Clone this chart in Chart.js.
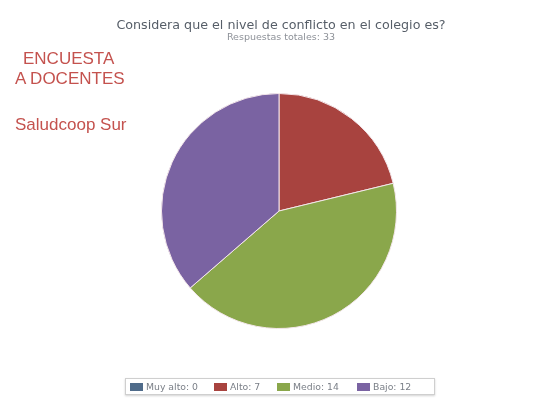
<!DOCTYPE html>
<html>
<head>
<meta charset="utf-8">
<script src="https://cdn.jsdelivr.net/npm/chart.js@4/dist/chart.umd.min.js"></script>
<style>
  html, body { margin: 0; padding: 0; background: #fff; }
  #wrap { position: relative; width: 555px; height: 402px; overflow: hidden; }
  #chart { position: absolute; left: 0; top: 0; }
  .title { position: absolute; left: 0; width: 562px; text-align: center; font-family: "DejaVu Sans", sans-serif; white-space: nowrap; }
  #t1 { top: 17px; font-size: 12.7px; line-height: 15px; color: #565e68; }
  #t2 { top: 31px; font-size: 9.5px; line-height: 11px; color: #8d9198; }
  .side { position: absolute; font-family: "Liberation Sans", Arial, sans-serif; font-size: 17px; line-height: 17px; color: #c4524e; white-space: nowrap; }
  #legend { position: absolute; left: 125px; top: 378px; width: 308px; height: 15px; border: 1px solid #cfcfcf; box-shadow: 0 1px 2px rgba(0,0,0,0.18); background: #fff;
            font-family: "DejaVu Sans", sans-serif; font-size: 9.3px; color: #7a7f87; }
  .li { position: absolute; top: 3px; white-space: nowrap; line-height: 9px; }
  .sw { display: inline-block; width: 13px; height: 8px; vertical-align: top; margin-right: 3px; margin-top: 1px; }
</style>
</head>
<body>
<div id="wrap">
  <canvas id="chart" width="555" height="402"></canvas>
  <div class="title" id="t1"></div>
  <div class="title" id="t2"></div>
  <div class="side" style="left:23px; top:50px;">ENCUESTA</div>
  <div class="side" style="left:15px; top:70px;">A DOCENTES</div>
  <div class="side" style="left:15px; top:116px;">Saludcoop Sur</div>
  <div id="legend"></div>
</div>
<script>
// Survey answers
const titleText = "Considera que el nivel de conflicto en el colegio es?";
const categories = ["Muy alto", "Alto", "Medio", "Bajo"];
const answers = [0, 7, 14, 12];
const sliceColors = ["#4f6b8a", "#a8433f", "#8aa74b", "#7a63a2"];

const total = answers.reduce((a, b) => a + b, 0);
document.getElementById("t1").textContent = titleText;
document.getElementById("t2").textContent = "Respuestas totales: " + total;

// legend row
const legendX = [4, 88, 151, 231];
const legend = document.getElementById("legend");
categories.forEach((c, i) => {
  const item = document.createElement("div");
  item.className = "li";
  item.style.left = legendX[i] + "px";
  item.innerHTML = '<span class="sw" style="background:' + sliceColors[i] + '"></span>' + c + ": " + answers[i];
  legend.appendChild(item);
});

new Chart(document.getElementById("chart"), {
  type: "pie",
  data: {
    labels: categories,
    datasets: [{
      data: answers,
      backgroundColor: sliceColors,
      borderColor: "#f3e6ea",
      borderWidth: 1
    }]
  },
  options: {
    responsive: false,
    animation: false,
    devicePixelRatio: 1,
    layout: { padding: { top: 93, bottom: 73, left: 3, right: 0 } },
    plugins: {
      legend: { display: false },
      title: { display: false },
      tooltip: { enabled: false }
    }
  }
});
</script>
</body>
</html>
